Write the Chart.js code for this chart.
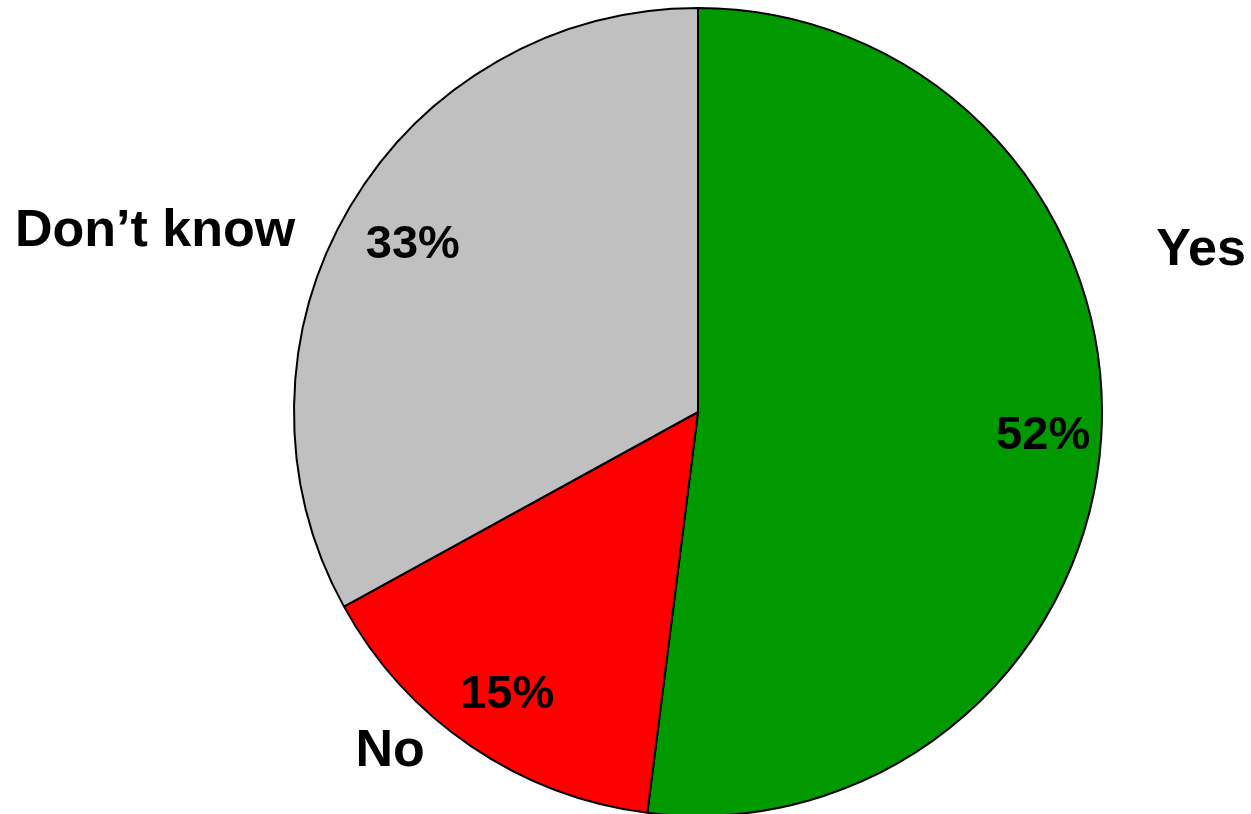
<!DOCTYPE html>
<html>
<head>
<meta charset="utf-8">
<script src="https://cdn.jsdelivr.net/npm/chart.js@4/dist/chart.umd.min.js"></script>
<style>
  html, body { margin: 0; padding: 0; background: #fff; overflow: hidden; }
  #wrap { width: 1251px; height: 830px; position: relative; }
</style>
</head>
<body>
<div id="wrap"><canvas id="pieChart"></canvas></div>
<script>
// data
const categories = ['Yes', 'No', 'Don\u2019t know'];
const shares = [52, 15, 33];
const sliceColors = ['#009900', '#ff0000', '#c0c0c0'];

// label placement, in radii from the pie centre
const pctRadius = [0.856, 0.84, 0.82];
const nameOffsets = [[1.245, -0.40], [-0.762, 0.84], [-1.344, -0.447]];

const pieLabels = {
    id: 'pieLabels',
    afterDatasetsDraw(chart) {
        const ctx = chart.ctx;
        const arcs = chart.getDatasetMeta(0).data;
        ctx.save();
        ctx.fillStyle = '#000';
        ctx.textAlign = 'center';
        ctx.textBaseline = 'middle';
        arcs.forEach((arc, i) => {
            const mid = (arc.startAngle + arc.endAngle) / 2;
            const r = arc.outerRadius * pctRadius[i];
            ctx.font = 'bold 47px "Liberation Sans", Arial, sans-serif';
            ctx.fillText(shares[i] + '%', arc.x + Math.cos(mid) * r, arc.y + Math.sin(mid) * r + 2);

            const off = nameOffsets[i];
            ctx.font = 'bold 52px "Liberation Sans", Arial, sans-serif';
            ctx.fillText(categories[i], arc.x + off[0] * arc.outerRadius, arc.y + off[1] * arc.outerRadius);
        });
        ctx.restore();
    }
};

new Chart(document.getElementById('pieChart').getContext('2d'), {
    type: 'pie',
    data: {
        labels: categories,
        datasets: [{
            data: shares,
            backgroundColor: sliceColors,
            borderColor: '#000',
            borderWidth: 2
        }]
    },
    options: {
        responsive: true,
        maintainAspectRatio: false,
        animation: false,
        layout: { padding: { top: 7, bottom: 13, left: 290, right: 145 } },
        plugins: {
            legend: { display: false },
            tooltip: { enabled: false }
        }
    },
    plugins: [pieLabels]
});
</script>
</body>
</html>
